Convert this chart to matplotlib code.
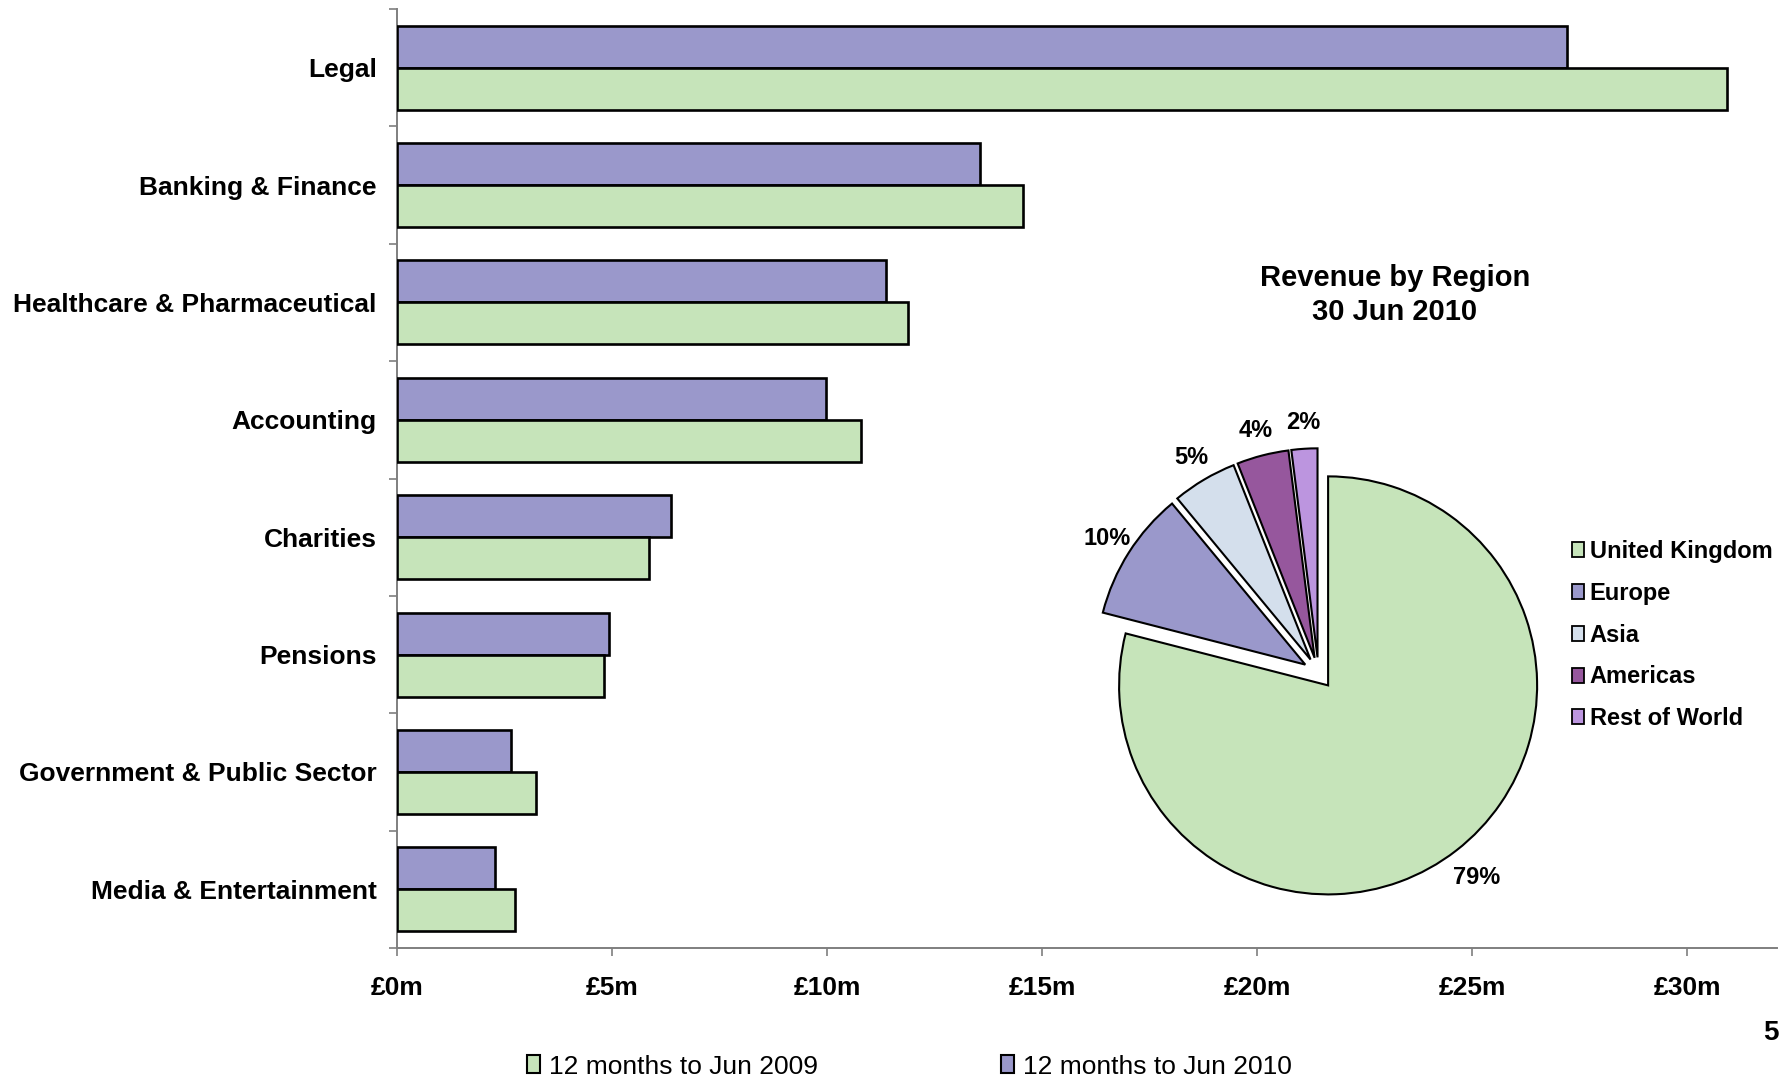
import matplotlib

matplotlib.use("Agg")
import matplotlib.pyplot as plt
from matplotlib.patches import Patch

plt.rcParams["font.family"] = ["Liberation Sans", "DejaVu Sans"]

# Revenue by sector (£m), top to bottom
SECTORS = [
    "Legal",
    "Banking & Finance",
    "Healthcare & Pharmaceutical",
    "Accounting",
    "Charities",
    "Pensions",
    "Government & Public Sector",
    "Media & Entertainment",
]
REV_2009 = [30.93, 14.56, 11.88, 10.79, 5.87, 4.81, 3.23, 2.74]
REV_2010 = [27.21, 13.55, 11.37, 9.97, 6.38, 4.92, 2.66, 2.29]
X_TICKS = [0, 5, 10, 15, 20, 25, 30]
SERIES_LABELS = ["12 months to Jun 2009", "12 months to Jun 2010"]

# Revenue split by region, 30 Jun 2010 (%)
REGIONS = ["United Kingdom", "Europe", "Asia", "Americas", "Rest of World"]
REGION_PCT = [79, 10, 5, 4, 2]

GREEN = "#C6E4BA"
PURPLE = "#9A98CB"
REGION_COLORS = [GREEN, PURPLE, "#D4DFEC", "#96579D", "#BC95DF"]
AXIS_GREY = "#7F7F7F"

W, H = 1790, 1079
fig = plt.figure(figsize=(W / 100, H / 100), dpi=100)


def fig_rect(left, top, right, bottom):
    return [left / W, 1 - bottom / H, (right - left) / W, (bottom - top) / H]


# --- horizontal bar chart -------------------------------------------------
ax = fig.add_axes(fig_rect(397, 9, 1777, 948))
n = len(SECTORS)
pos = [n - 1 - i for i in range(n)]
bh = 0.358
ax.barh([p + bh / 2 for p in pos], REV_2010, height=bh, color=PURPLE,
        edgecolor="black", linewidth=1.9, zorder=3)
ax.barh([p - bh / 2 for p in pos], REV_2009, height=bh, color=GREEN,
        edgecolor="black", linewidth=1.9, zorder=3)

ax.set_xlim(0, 32.09)
ax.set_ylim(-0.5, n - 0.5)
ax.set_xticks(X_TICKS)
ax.set_xticklabels([f"£{v}m" for v in X_TICKS], fontsize=19, fontweight="bold")
ax.set_yticks(pos)
ax.set_yticklabels(SECTORS, fontsize=19, fontweight="bold")
ax.set_yticks([k - 0.5 for k in range(n + 1)], minor=True)
ax.tick_params(axis="y", which="major", length=0, pad=14.5)
ax.tick_params(axis="y", which="minor", length=6, width=1.2, color=AXIS_GREY,
               direction="out")
ax.tick_params(axis="x", length=6, width=1.2, color=AXIS_GREY, pad=14.5,
               direction="out")
for side in ("top", "right"):
    ax.spines[side].set_visible(False)
for side in ("left", "bottom"):
    ax.spines[side].set_color(AXIS_GREY)
    ax.spines[side].set_linewidth(1.4)
ax.set_facecolor("none")

fig.legend(
    handles=[Patch(facecolor=GREEN, edgecolor="black", linewidth=1.5),
             Patch(facecolor=PURPLE, edgecolor="black", linewidth=1.5)],
    labels=SERIES_LABELS,
    loc="center left", bbox_to_anchor=(527 / W, 1 - 1066.5 / H),
    ncol=2, frameon=False, fontsize=19, borderpad=0, borderaxespad=0,
    handlelength=0.5, handleheight=0.65, handletextpad=0.35, columnspacing=6.9,
)

# --- regional pie -------------------------------------------------------
R = 209
cx, cy = 1318.5, 673
half = 1.3 * R
pax = fig.add_axes(fig_rect(cx - half, cy - half, cx + half, cy + half))
wedges, _, autotexts = pax.pie(
    REGION_PCT, colors=REGION_COLORS, startangle=90, counterclock=False,
    explode=[0.075] * len(REGION_PCT), autopct="%d%%", pctdistance=1.125,
    wedgeprops=dict(edgecolor="black", linewidth=1.5),
    textprops=dict(fontsize=17, fontweight="bold"),
)
# the big slice's label sits a little further out
ux, uy = autotexts[0].get_position()
autotexts[0].set_position((ux * 1.03, uy * 1.03))
pax.set_xlim(-1.3, 1.3)
pax.set_ylim(-1.3, 1.3)
pax.set_aspect("equal")
pax.axis("off")

fig.text(1395 / W, 1 - 295 / H, "Revenue by Region\n30 Jun 2010",
         ha="center", va="center", fontsize=21, fontweight="bold",
         linespacing=1.3)

fig.legend(
    handles=[Patch(facecolor=c, edgecolor="black", linewidth=1.3)
             for c in REGION_COLORS],
    labels=REGIONS,
    loc="center left", bbox_to_anchor=(1572 / W, 1 - 635 / H),
    frameon=False, prop=dict(size=17, weight="bold"), borderpad=0,
    borderaxespad=0, handlelength=0.5, handleheight=0.6, handletextpad=0.25,
    labelspacing=0.8,
)

fig.text(1771 / W, 1 - 1033 / H, "5", ha="center", va="center",
         fontsize=20, fontweight="bold")

fig.savefig("out.png", dpi=100)
